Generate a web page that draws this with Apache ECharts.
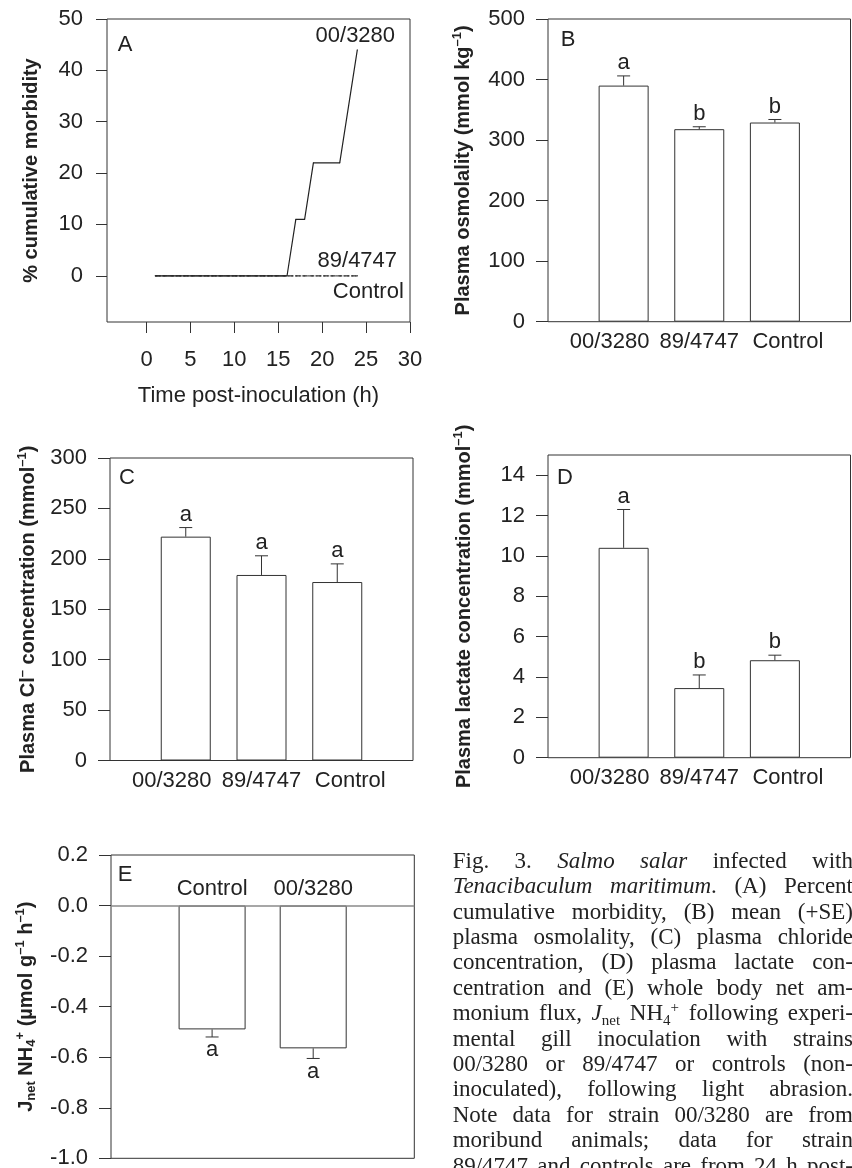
<!DOCTYPE html>
<html><head><meta charset="utf-8">
<script src="https://cdn.jsdelivr.net/npm/echarts@6/dist/echarts.min.js"></script>
<style>html,body{margin:0;padding:0;background:#fff}#c{width:852px;height:1168px}</style>
</head><body><div id="c"></div>
<script>
// ---------------- DATA ----------------
// Panel A: % cumulative morbidity vs time post-inoculation (h)
const timeA00 = [1, 16, 17, 18, 19, 22, 24];
const morbidity00 = [0, 0, 11, 11, 22, 22, 44];
const timeA89 = [1, 24];
const morbidity89 = [0, 0];
const timeACtrl = [1, 24];
const morbidityCtrl = [0, 0];
const ticksAx = [0, 5, 10, 15, 20, 25, 30];
const ticksAy = [0, 10, 20, 30, 40, 50];

// Panels B-D
const strains = ['00/3280', '89/4747', 'Control'];
const osmoMean = [390, 318, 329];
const osmoSE = [16, 4, 5];
const osmoLetters = ['a', 'b', 'b'];
const chlorideMean = [222, 184, 177];
const chlorideSE = [9, 19, 18];
const chlorideLetters = ['a', 'a', 'a'];
const lactateMean = [10.4, 3.45, 4.83];
const lactateSE = [1.9, 0.65, 0.25];
const lactateLetters = ['a', 'b', 'b'];
const ticksDy = [0, 2, 4, 6, 8, 10, 12, 14];

// Panel E
const groupsE = ['Control', '00/3280'];
const fluxMean = [-0.49, -0.565];
const fluxSE = [0.03, 0.04];
const fluxLetters = ['a', 'a'];

// Caption
const captionLines = [
  ['Fig.', '3.', '{i|Salmo}', '{i|salar}', 'infected', 'with'],
  ['{i|Tenacibaculum}', '{i|maritimum}.', '(A)', 'Percent'],
  ['cumulative', 'morbidity,', '(B)', 'mean', '(+SE)'],
  ['plasma', 'osmolality,', '(C)', 'plasma', 'chloride'],
  ['concentration,', '(D)', 'plasma', 'lactate', 'con-'],
  ['centration', 'and', '(E)', 'whole', 'body', 'net', 'am-'],
  ['monium', 'flux,', '{i|J}{sub|net}', 'NH{sub|4}{sup|+}', 'following', 'experi-'],
  ['mental', 'gill', 'inoculation', 'with', 'strains'],
  ['00/3280', 'or', '89/4747', 'or', 'controls', '(non-'],
  ['inoculated),', 'following', 'light', 'abrasion.'],
  ['Note', 'data', 'for', 'strain', '00/3280', 'are', 'from'],
  ['moribund', 'animals;', 'data', 'for', 'strain'],
  ['89/4747', 'and', 'controls', 'are', 'from', '24', 'h', 'post-']
];

// ---------------- STYLE ----------------
const SANS = '"Liberation Sans", Arial, Helvetica, sans-serif';
const SERIF = '"Liberation Serif", "Times New Roman", serif';
const INK = '#222';
const LINE = '#333';

const nameRich = {
  sup: { fontFamily: SANS, fontSize: 13, fontWeight: 'bold', color: INK, verticalAlign: 'top', lineHeight: 13 },
  sub: { fontFamily: SANS, fontSize: 13, fontWeight: 'bold', color: INK, verticalAlign: 'bottom', lineHeight: 13 }
};

const grids = [
  { left: 107, top: 19, width: 303, height: 303 },
  { left: 548, top: 19, width: 302.5, height: 302.7 },
  { left: 110, top: 458, width: 303, height: 302.5 },
  { left: 548, top: 455, width: 302.5, height: 302.7 },
  { left: 111, top: 855, width: 303.3, height: 303.3 }
].map(g => Object.assign(g, { show: true, borderColor: LINE, borderWidth: 1, backgroundColor: 'transparent', containLabel: false, outerBoundsMode: 'none' }));

function yAxis(gi, opts) {
  return Object.assign({
    type: 'value', gridIndex: gi, nameLocation: 'middle', nameRotate: 90,
    nameTextStyle: { fontFamily: SANS, fontSize: 20, fontWeight: 'bold', color: INK, lineHeight: 24, rich: nameRich },
    axisLine: { show: false, onZero: false },
    axisTick: { show: true, length: 12, lineStyle: { color: LINE, width: 1 } },
    axisLabel: { fontFamily: SANS, fontSize: 22, color: INK, margin: 23 },
    splitLine: { show: false }
  }, opts);
}

const labelShift = [-14, 0, 13];
const xRich = {};
labelShift.forEach((s, i) => {
  xRich['p' + i] = { fontFamily: SANS, fontSize: 22, color: INK, padding: s < 0 ? [0, -2 * s, 0, 0] : [0, 0, 0, 2 * s] };
});
function catAxis(gi) {
  return {
    type: 'category', gridIndex: gi, data: [''].concat(strains, ['']), boundaryGap: false,
    axisLine: { show: false, onZero: false }, axisTick: { show: false }, splitLine: { show: false },
    axisLabel: {
      interval: 0, margin: 9, fontFamily: SANS, fontSize: 22, color: INK, rich: xRich,
      formatter: (v, i) => v === '' ? '' : '{p' + (i - 1) + '|' + v + '}'
    }
  };
}

function barSeries(i, means, width) {
  return {
    type: 'bar', xAxisIndex: i, yAxisIndex: i, barWidth: width, silent: true,
    data: ['-'].concat(means, ['-']),
    itemStyle: { color: '#fff', borderColor: LINE, borderWidth: 1 }
  };
}

function errSeries(i, means, ses, letters, dir) {
  return {
    type: 'custom', xAxisIndex: i, yAxisIndex: i, z: 5, silent: true,
    data: means.map((m, k) => [k + 1, m, m + dir * ses[k]]),
    renderItem(params, api) {
      const p0 = api.coord([api.value(0), api.value(1)]);
      const p1 = api.coord([api.value(0), api.value(2)]);
      const hw = 6.5;
      return {
        type: 'group', children: [
          { type: 'line', shape: { x1: p0[0], y1: p0[1], x2: p1[0], y2: p1[1] }, style: { stroke: LINE, lineWidth: 1 } },
          { type: 'line', shape: { x1: p1[0] - hw, y1: p1[1], x2: p1[0] + hw, y2: p1[1] }, style: { stroke: LINE, lineWidth: 1 } },
          { type: 'text', x: p1[0], y: p1[1] - dir * 2,
            style: { text: letters[params.dataIndex], fontFamily: SANS, fontSize: 22, fill: INK, align: 'center', verticalAlign: dir > 0 ? 'bottom' : 'top' } }
        ]
      };
    }
  };
}

function lineData(xs, ys, name, lab) {
  return xs.map((x, k) => {
    const d = { value: [x, ys[k]] };
    if (k === xs.length - 1) d.label = Object.assign({ show: true, formatter: name, fontFamily: SANS, fontSize: 22, color: INK }, lab);
    return d;
  });
}

// ---------------- CAPTION LAYOUT ----------------
const capLeft = 452.7, capRight = 853, capTop = 861.7, capStep = 25.4;
let capSize = 23;
const mctx = document.createElement('canvas').getContext('2d');
function parseRuns(word) {
  const runs = []; const re = /\{(\w+)\|([^}]*)\}|([^{]+)/g; let m;
  while ((m = re.exec(word))) runs.push(m[3] !== undefined ? { s: '', t: m[3] } : { s: m[1], t: m[2] });
  return runs;
}
function runFont(s, size) {
  const sz = (s === 'sub' || s === 'sup') ? Math.round(size * 0.65) : size;
  return (s === 'i' ? 'italic ' : '') + sz + 'px ' + SERIF;
}
function wordWidth(word, size) {
  return parseRuns(word).reduce((a, r) => { mctx.font = runFont(r.s, size); return a + mctx.measureText(r.t).width; }, 0);
}
const W = capRight - capLeft;
let maxNat = 0;
captionLines.forEach(l => {
  const nat = l.reduce((a, w) => a + wordWidth(w, capSize), 0) + (l.length - 1) * capSize * 0.22;
  maxNat = Math.max(maxNat, nat);
});
if (maxNat > W) capSize = capSize * W / maxNat;
const capRich = {
  i: { fontFamily: SERIF, fontSize: capSize, fontStyle: 'italic', fill: INK, lineHeight: 28 },
  sub: { fontFamily: SERIF, fontSize: Math.round(capSize * 0.65), fill: INK, verticalAlign: 'bottom', lineHeight: 14 },
  sup: { fontFamily: SERIF, fontSize: Math.round(capSize * 0.65), fill: INK, verticalAlign: 'top', lineHeight: 14 }
};
const captionEls = [];
captionLines.forEach((l, li) => {
  const widths = l.map(w => wordWidth(w, capSize));
  const sum = widths.reduce((a, b) => a + b, 0);
  const gap = (W - sum) / (l.length - 1);
  let x = capLeft;
  l.forEach((w, wi) => {
    captionEls.push({
      type: 'text', x: x, y: capTop + li * capStep, silent: true,
      style: { text: w, fontFamily: SERIF, fontSize: capSize, fill: INK, align: 'left', verticalAlign: 'middle', lineHeight: 28, rich: capRich }
    });
    x += widths[wi] + gap;
  });
});

const panelLetters = [['A', 125, 45], ['B', 568, 40], ['C', 127, 478], ['D', 565, 478], ['E', 125, 875]];
const letterEls = panelLetters.map(p => ({
  type: 'text', x: p[1], y: p[2], silent: true,
  style: { text: p[0], fontFamily: SANS, fontSize: 22, fill: INK, align: 'center', verticalAlign: 'middle' }
}));

// ---------------- OPTION ----------------
const option = {
  animation: false,
  backgroundColor: '#fff',
  grid: grids,
  xAxis: [
    { type: 'value', gridIndex: 0, min: -4.5, max: 30,
      name: 'Time post-inoculation (h)', nameLocation: 'middle', nameGap: 63,
      nameTextStyle: { fontFamily: SANS, fontSize: 22, color: INK },
      axisLine: { show: false, onZero: false }, splitLine: { show: false },
      axisTick: { show: true, length: 11, customValues: ticksAx, lineStyle: { color: LINE } },
      axisLabel: { customValues: ticksAx, fontFamily: SANS, fontSize: 22, color: INK, margin: 27 } },
    catAxis(1), catAxis(2), catAxis(3),
    { type: 'category', gridIndex: 4, position: 'top', data: [''].concat(groupsE, ['']), boundaryGap: false,
      axisLine: { show: false, onZero: false }, axisTick: { show: false }, splitLine: { show: false },
      axisLabel: { inside: true, interval: 0, margin: 23, fontFamily: SANS, fontSize: 22, color: INK } }
  ],
  yAxis: [
    yAxis(0, { min: -9, max: 50, name: '% cumulative morbidity', nameGap: 64,
      axisTick: { show: true, length: 11, customValues: ticksAy, lineStyle: { color: LINE } },
      axisLabel: { customValues: ticksAy, fontFamily: SANS, fontSize: 22, color: INK, margin: 24 } }),
    yAxis(1, { min: 0, max: 500, interval: 100, name: 'Plasma osmolality (mmol kg{sup|\u20131})', nameGap: 73 }),
    yAxis(2, { min: 0, max: 300, interval: 50, name: 'Plasma Cl{sup|\u2013} concentration (mmol{sup|\u20131})', nameGap: 70 }),
    yAxis(3, { min: 0, max: 15, name: 'Plasma lactate concentration (mmol{sup|\u20131})', nameGap: 72,
      axisTick: { show: true, length: 12, customValues: ticksDy, lineStyle: { color: LINE } },
      axisLabel: { customValues: ticksDy, fontFamily: SANS, fontSize: 22, color: INK, margin: 23 } }),
    yAxis(4, { min: -1, max: 0.2, interval: 0.2, name: 'J{sub|net} NH{sub|4}{sup|+} (\u00b5mol g{sup|\u20131} h{sup|\u20131})', nameGap: 73,
      axisLabel: { fontFamily: SANS, fontSize: 22, color: INK, margin: 23, formatter: v => (+v).toFixed(1) } })
  ],
  series: [
    { type: 'line', name: '89/4747', xAxisIndex: 0, yAxisIndex: 0, symbol: 'circle', symbolSize: 1, showSymbol: true,
      itemStyle: { color: '#555' }, lineStyle: { color: '#555', width: 1.2, type: [2, 2] },
      data: lineData(timeA89, morbidity89, '89/4747', { position: 'top', distance: 3 }) },
    { type: 'line', name: 'Control', xAxisIndex: 0, yAxisIndex: 0, symbol: 'circle', symbolSize: 1, showSymbol: true,
      itemStyle: { color: '#333' }, lineStyle: { color: '#333', width: 1.2, type: [5, 2] },
      data: lineData(timeACtrl, morbidityCtrl, 'Control', { position: 'bottom', distance: 5, offset: [11, 0] }) },
    { type: 'line', name: '00/3280', xAxisIndex: 0, yAxisIndex: 0, symbol: 'circle', symbolSize: 1, showSymbol: true,
      itemStyle: { color: '#222' }, lineStyle: { color: '#222', width: 1.2 },
      data: lineData(timeA00, morbidity00, '00/3280', { position: 'top', distance: 2, offset: [-2, 0] }) },
    barSeries(1, osmoMean, 50), errSeries(1, osmoMean, osmoSE, osmoLetters, 1),
    barSeries(2, chlorideMean, 50), errSeries(2, chlorideMean, chlorideSE, chlorideLetters, 1),
    barSeries(3, lactateMean, 50), errSeries(3, lactateMean, lactateSE, lactateLetters, 1),
    Object.assign(barSeries(4, fluxMean, 67), {
      markLine: { silent: true, symbol: 'none', label: { show: false }, lineStyle: { color: '#8a8a8a', width: 1.5, type: 'solid' },
        data: [{ yAxis: 0 }] }
    }),
    errSeries(4, fluxMean, fluxSE, fluxLetters, -1)
  ],
  graphic: letterEls.concat(captionEls)
};

const chart = echarts.init(document.getElementById('c'), null, { renderer: 'canvas' });
chart.setOption(option);
</script>
</body></html>
